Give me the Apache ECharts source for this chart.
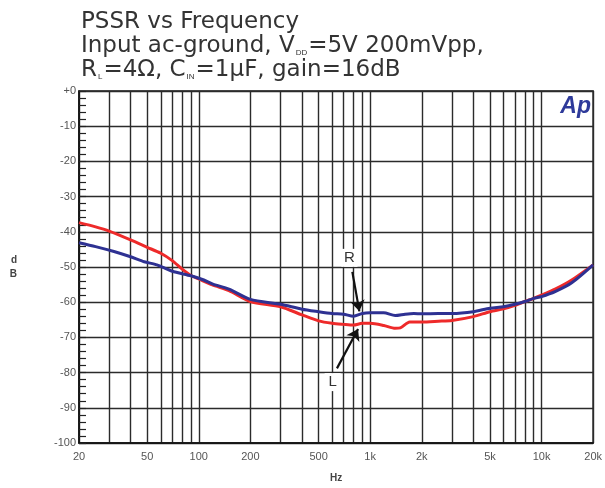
<!DOCTYPE html>
<html>
<head>
<meta charset="utf-8">
<script src="https://cdn.jsdelivr.net/npm/echarts@6/dist/echarts.min.js"></script>
<style>
  html, body { margin: 0; padding: 0; background: #fff; }
  #chart { width: 605px; height: 488px; }
</style>
</head>
<body>
<div id="chart"></div>
<script>
// PSSR data (Hz, dB)
var freqR = [20, 25, 30, 40, 50, 60, 70, 80, 90, 100, 120, 150, 200, 300, 400, 500, 600, 700, 800, 900, 1000, 1200, 1400, 1500, 1700, 2000, 2500, 3000, 4000, 5000, 6000, 7000, 8000, 9000, 10000, 12000, 15000, 20000]
var valR = [-37.4, -38.6, -39.8, -42.3, -44.4, -46.1, -48.2, -50.6, -52.4, -53.4, -55.1, -56.7, -59.8, -61.3, -63.6, -65.3, -66, -66.3, -66.5, -66, -66, -66.6, -67.4, -67.3, -65.6, -65.6, -65.4, -65.2, -64.1, -62.7, -61.9, -60.9, -59.8, -58.9, -58, -56.3, -53.7, -49.4]
var freqB = [20, 25, 32, 40, 48, 57, 70, 90, 107, 120, 150, 200, 300, 400, 500, 600, 700, 800, 900, 1000, 1200, 1400, 1600, 1800, 2000, 2500, 3000, 4000, 5000, 6000, 7000, 8000, 9000, 10000, 12000, 15000, 20000]
var valB = [-43.1, -44.2, -45.6, -47.1, -48.5, -49.4, -51.2, -52.5, -53.7, -54.8, -56.3, -59.2, -60.6, -62, -62.7, -63.2, -63.4, -64, -63.2, -63, -63, -63.8, -63.4, -63.2, -63.3, -63.2, -63.2, -62.7, -61.7, -61.3, -60.6, -59.8, -58.9, -58.4, -57, -54.5, -49.4]

// axis ticks
var gridFreqs = [20, 30, 40, 50, 60, 70, 80, 90, 100, 200, 300, 400, 500, 600, 700, 800, 900, 1000, 2000, 3000, 4000, 5000, 6000, 7000, 8000, 9000, 10000, 20000]
var labelFreqs = [20, 50, 100, 200, 500, 1000, 2000, 5000, 10000, 20000]
var labelText = ['20', '50', '100', '200', '500', '1k', '2k', '5k', '10k', '20k']

// annotation arrows [tail, head] as [Hz, dB]
var arrowR = [[787, -51.4], [865, -62.6]]
var arrowL = [[640, -78.8], [850, -67.6]]
var labelR = [757, -47.4]
var labelL = [604, -82.7]

function lg (f) { return Math.log10(f) }
function pairs (fs, vs) { return fs.map(function (f, i) { return [lg(f), vs[i]] }) }

var chart = echarts.init(document.getElementById('chart'))
var fontTxt = 'Liberation Sans'

chart.setOption({
  animation: false,
  title: {
    left: 76,
    top: 5,
    text: '{t|PSSR vs Frequency}\n{t|Input ac-ground, V}{s|DD}{t|=5V 200mVpp,}\n{t|R}{s|L}{t|=4Ω, C}{s|IN}{t|=1μF, gain=16dB}',
    textStyle: {
      rich: {
        t: { fontFamily: 'DejaVu Sans', fontWeight: 'normal', fontSize: 23, color: '#333', lineHeight: 24 },
        s: { fontFamily: fontTxt, fontWeight: 'normal', fontSize: 8, color: '#333', lineHeight: 24, padding: [14, 1, 0, 1] }
      }
    }
  },
  grid: { left: 79, right: 7, top: 91, bottom: 45, show: true, borderColor: '#111', borderWidth: 1.5 },
  xAxis: {
    type: 'value',
    min: lg(20),
    max: lg(20000),
    name: 'Hz',
    nameLocation: 'middle',
    nameGap: 30,
    nameTextStyle: { fontFamily: fontTxt, fontSize: 10, fontWeight: 'bold', color: '#444' },
    axisLine: { show: true, onZero: false, lineStyle: { color: '#111', width: 1.5 } },
    axisTick: { show: false, customValues: gridFreqs.map(lg) },
    axisLabel: {
      customValues: labelFreqs.map(lg),
      margin: 8,
      fontFamily: fontTxt,
      fontSize: 11,
      color: '#555',
      formatter: function (v) {
        var i = labelFreqs.findIndex(function (f) { return Math.abs(lg(f) - v) < 1e-6 })
        return i >= 0 ? labelText[i] : ''
      }
    },
    splitLine: { show: true, lineStyle: { color: '#2b2b2b', width: 1.4 } }
  },
  yAxis: {
    type: 'value',
    min: -100,
    max: 0,
    interval: 10,
    name: 'd\nB',
    nameLocation: 'middle',
    nameRotate: 0,
    nameGap: 62,
    nameTextStyle: { fontFamily: fontTxt, fontSize: 10, fontWeight: 'bold', color: '#444', lineHeight: 14 },
    axisLine: { show: true, lineStyle: { color: '#111', width: 1.5 } },
    axisTick: { show: true, inside: true, length: 7, lineStyle: { color: '#222', width: 1.2 } },
    minorTick: { show: true, inside: true, splitNumber: 5, length: 7, lineStyle: { color: '#222', width: 1.2 } },
    axisLabel: {
      margin: 3,
      fontFamily: fontTxt,
      fontSize: 11,
      color: '#555',
      formatter: function (v) { return v === 0 ? '+0' : String(v) }
    },
    splitLine: { show: true, lineStyle: { color: '#2b2b2b', width: 1.4 } }
  },
  graphic: [{
    type: 'text',
    right: 14,
    top: 95,
    style: { text: 'Ap', font: 'italic bold 23px Liberation Sans', fill: '#2e3a9a' }
  }],
  series: [{
    name: 'L',
    type: 'line',
    data: pairs(freqR, valR),
    showSymbol: false,
    smooth: 0.25,
    lineStyle: { color: '#ee2a2a', width: 3 },
    markPoint: {
      symbol: 'rect',
      symbolSize: [16, 18],
      itemStyle: { color: '#fff' },
      label: { show: true, color: '#333', fontFamily: fontTxt, fontSize: 15, formatter: '{b}' },
      data: [{ name: 'L', coord: [lg(labelL[0]), labelL[1]] }]
    },
    markLine: {
      silent: true,
      symbol: ['none', 'arrow'],
      symbolSize: 11,
      label: { show: false },
      lineStyle: { color: '#111', width: 2.2, type: 'solid' },
      data: [[{ coord: [lg(arrowL[0][0]), arrowL[0][1]] }, { coord: [lg(arrowL[1][0]), arrowL[1][1]] }]]
    }
  }, {
    name: 'R',
    type: 'line',
    data: pairs(freqB, valB),
    showSymbol: false,
    smooth: 0.25,
    lineStyle: { color: '#2e3192', width: 3 },
    markPoint: {
      symbol: 'rect',
      symbolSize: [16, 18],
      itemStyle: { color: '#fff' },
      label: { show: true, color: '#333', fontFamily: fontTxt, fontSize: 15, formatter: '{b}' },
      data: [{ name: 'R', coord: [lg(labelR[0]), labelR[1]] }]
    },
    markLine: {
      silent: true,
      symbol: ['none', 'arrow'],
      symbolSize: 11,
      label: { show: false },
      lineStyle: { color: '#111', width: 2.2, type: 'solid' },
      data: [[{ coord: [lg(arrowR[0][0]), arrowR[0][1]] }, { coord: [lg(arrowR[1][0]), arrowR[1][1]] }]]
    }
  }]
})
</script>
</body>
</html>
